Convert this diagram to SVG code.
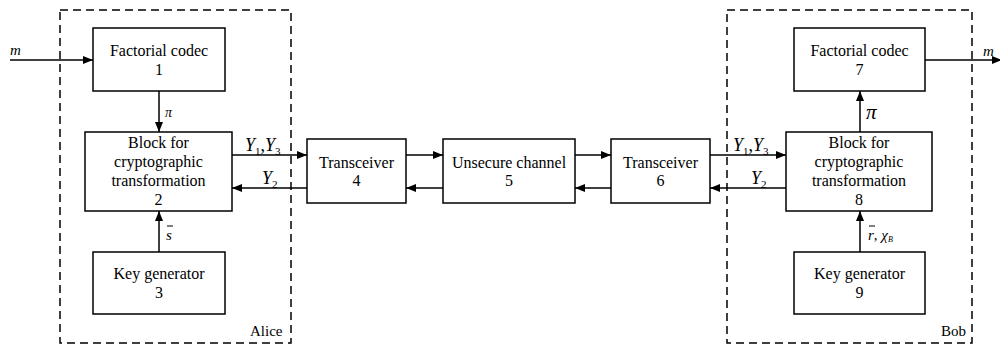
<svg xmlns="http://www.w3.org/2000/svg" width="1000" height="345" viewBox="0 0 1000 345" font-family="'Liberation Serif', 'Times New Roman', Times, serif">
<defs>
<marker id="ah" viewBox="0 0 10 8" refX="10" refY="4" markerWidth="10" markerHeight="8" markerUnits="userSpaceOnUse" orient="auto">
<path d="M0,0 L10,4 L0,8 z" fill="#000"/>
</marker>
</defs>
<style>
.box{fill:#fff;stroke:#000;stroke-width:1.5}
.dash{fill:none;stroke:#000;stroke-width:1.5;stroke-dasharray:8,5}
text{font-family:'Liberation Serif','Times New Roman',Times,serif}
.t{font-size:16px;fill:#000;text-anchor:middle}
.lb{font-size:15px;fill:#000}
.it{font-style:italic;fill:#000}
.sub{font-style:normal;font-size:11px}
.sb{font-style:italic;font-size:8px}
.c{stroke:#000;stroke-width:1.5;fill:none;marker-end:url(#ah)}
.l{stroke:#000;stroke-width:1;fill:none}
</style>
<g id="alice-frame">
<rect class="dash" x="60" y="10" width="231" height="333"/>
<text class="lb" x="250" y="336">Alice</text>
</g>
<g id="bob-frame">
<rect class="dash" x="727" y="10" width="245" height="333"/>
<text class="lb" x="941" y="336">Bob</text>
</g>
<g id="n1"><rect class="box" x="93" y="28" width="132" height="63"/><text class="t" x="159" y="56">Factorial codec</text><text class="t" x="159" y="75">1</text></g>
<g id="n2"><rect class="box" x="85" y="132" width="147" height="79"/><text class="t" x="158.5" y="148">Block for</text><text class="t" x="158.5" y="167">cryptographic</text><text class="t" x="158.5" y="186">transformation</text><text class="t" x="158.5" y="205">2</text></g>
<g id="n3"><rect class="box" x="93" y="252" width="132" height="62"/><text class="t" x="159" y="279">Key generator</text><text class="t" x="159" y="298">3</text></g>
<g id="n4"><rect class="box" x="307" y="139" width="99" height="64"/><text class="t" x="356.5" y="168">Transceiver</text><text class="t" x="356.5" y="186">4</text></g>
<g id="n5"><rect class="box" x="443" y="139" width="132" height="64"/><text class="t" x="509" y="168">Unsecure channel</text><text class="t" x="509" y="186">5</text></g>
<g id="n6"><rect class="box" x="611" y="139" width="99" height="64"/><text class="t" x="660.5" y="168">Transceiver</text><text class="t" x="660.5" y="186">6</text></g>
<g id="n7"><rect class="box" x="794" y="28" width="131" height="63"/><text class="t" x="859.5" y="56">Factorial codec</text><text class="t" x="859.5" y="75">7</text></g>
<g id="n8"><rect class="box" x="786" y="132" width="146" height="79"/><text class="t" x="859" y="148">Block for</text><text class="t" x="859" y="167">cryptographic</text><text class="t" x="859" y="186">transformation</text><text class="t" x="859" y="205">8</text></g>
<g id="n9"><rect class="box" x="794" y="252" width="131" height="62"/><text class="t" x="859.5" y="279">Key generator</text><text class="t" x="859.5" y="298">9</text></g>
<g id="connectors">
<path class="c" d="M10,60 H93"/>
<path class="c" d="M159,91 V132"/>
<path class="c" d="M159,252 V211"/>
<path class="c" d="M232,155 H307"/>
<path class="c" d="M307,188 H232"/>
<path class="c" d="M406,155 H443"/>
<path class="c" d="M443,188 H406"/>
<path class="c" d="M575,155 H611"/>
<path class="c" d="M611,188 H575"/>
<path class="c" d="M710,155 H786"/>
<path class="c" d="M786,188 H710"/>
<path class="c" d="M860,132 V91"/>
<path class="c" d="M860,252 V211"/>
<path class="c" d="M925,60 H1002"/>
</g>
<g id="labels">
<text class="it" x="10" y="55" font-size="15">m</text>
<text class="it" x="983" y="56" font-size="15">m</text>
<text class="it" x="165" y="117" font-size="14">π</text>
<text class="it" x="866" y="119" font-size="21">π</text>
<text class="it" x="166" y="240" font-size="15">s</text>
<line class="l" x1="167" y1="226" x2="173" y2="226"/>
<text class="it" x="868" y="240" font-size="15">r<tspan font-style="normal">,</tspan> χ<tspan class="sb" dy="2">B</tspan></text>
<line class="l" x1="869" y1="226" x2="875" y2="226"/>
<text class="it" x="245" y="151" font-size="18">Y<tspan class="sub" dy="4">1</tspan><tspan dy="-4" font-style="normal">,</tspan>Y<tspan class="sub" dy="4">3</tspan></text>
<text class="it" x="262" y="184" font-size="18">Y<tspan class="sub" dy="4">2</tspan></text>
<text class="it" x="733" y="151" font-size="18">Y<tspan class="sub" dy="4">1</tspan><tspan dy="-4" font-style="normal">,</tspan>Y<tspan class="sub" dy="4">3</tspan></text>
<text class="it" x="751" y="184" font-size="18">Y<tspan class="sub" dy="4">2</tspan></text>
</g>
</svg>
